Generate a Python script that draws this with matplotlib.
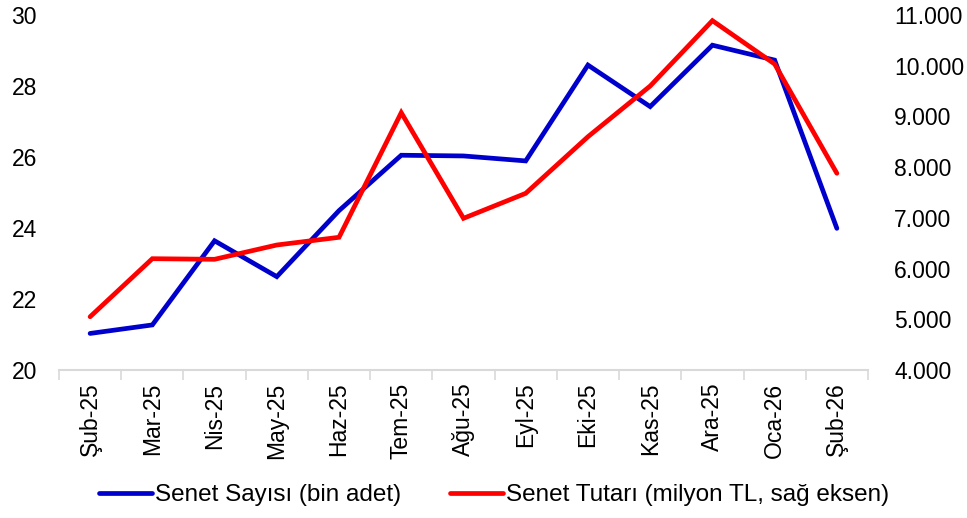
import matplotlib
matplotlib.use("Agg")
import matplotlib.pyplot as plt
from matplotlib.ticker import FuncFormatter, FixedLocator

plt.rcParams['font.family'] = ['Liberation Sans', 'DejaVu Sans']

months = ["Şub-25", "Mar-25", "Nis-25", "May-25", "Haz-25", "Tem-25", "Ağu-25",
          "Eyl-25", "Eki-25", "Kas-25", "Ara-25", "Oca-26", "Şub-26"]
senet_sayisi = [21.03, 21.27, 23.64, 22.63, 24.49, 26.05, 26.03, 25.89, 28.59, 27.42, 29.15, 28.73, 23.99]
senet_tutari = [5050, 6195, 6183, 6465, 6617, 9074, 6991, 7484, 8600, 9600, 10889, 10034, 7879]

left_ticks = [20, 22, 24, 26, 28, 30]
right_ticks = [4000, 5000, 6000, 7000, 8000, 9000, 10000, 11000]

fig = plt.figure(figsize=(9.67, 5.18), dpi=100)
ax = fig.add_axes([0.061, 0.2857, 0.8366, 0.6853])
ax2 = ax.twinx()

x = list(range(len(months)))
l1, = ax.plot(x, senet_sayisi, color="#0000CC", lw=3.4, solid_joinstyle="miter",
              solid_capstyle="round", label="Senet Sayısı (bin adet)")
l2, = ax2.plot(x, senet_tutari, color="#FF0000", lw=3.4, solid_joinstyle="miter",
               solid_capstyle="round", label="Senet Tutarı (milyon TL, sağ eksen)")

ax.set_xlim(-0.5, len(months) - 0.5)
ax.set_ylim(20, 30)
ax2.set_ylim(4000, 11000)
ax.set_yticks(left_ticks)
ax2.set_yticks(right_ticks)
ax2.yaxis.set_major_formatter(FuncFormatter(lambda v, p: f"{int(v):,}".replace(",", ".")))

fs = 16.5
ax.set_xticks(x)
ax.set_xticklabels(months, rotation=90, fontsize=fs)
ax.xaxis.set_minor_locator(FixedLocator([i - 0.5 for i in range(len(months) + 1)]))
ax.tick_params(axis="x", which="major", length=0, pad=9)
ax.tick_params(axis="x", which="minor", length=7, width=1.2, color="#D9D9D9")
ax.tick_params(axis="y", length=0, labelsize=fs, pad=16)
ax2.tick_params(axis="y", length=0, labelsize=fs, pad=19)

for a in (ax, ax2):
    for s in ("top", "left", "right"):
        a.spines[s].set_visible(False)
ax.spines["bottom"].set_color("#D9D9D9")
ax.spines["bottom"].set_linewidth(1.5)
ax2.spines["bottom"].set_visible(False)

leg = fig.legend(handles=[l1, l2], loc="center", bbox_to_anchor=(0.511, 0.044), ncol=2,
                 frameon=False, fontsize=17.5, handlelength=2.2, handletextpad=0.12,
                 columnspacing=2.0)

fig.savefig("out.png", dpi=100)
